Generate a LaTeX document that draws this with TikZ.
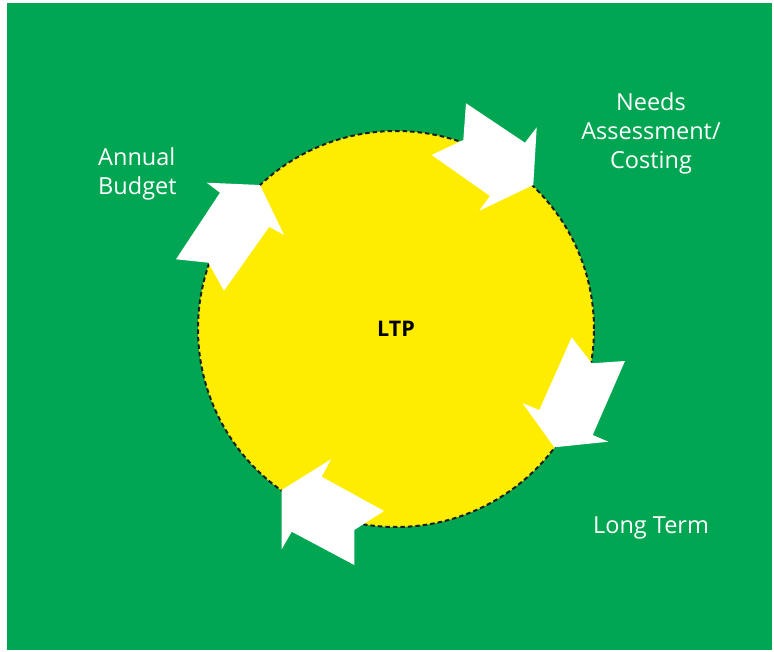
\documentclass[tikz,border=0pt]{standalone}
\usepackage{fontspec}
\setmainfont{Open Sans}
\tikzset{
  cycle label/.style={text=white, inner sep=0pt, font=\fontsize{23.5}{29}\selectfont},
  centre label/.style={text=black, inner sep=0pt, font=\fontsize{21.5}{26}\selectfont\bfseries},
  rim/.style={line width=2pt, dash pattern=on 4.5pt off 3pt},
}
\begin{document}
\begin{tikzpicture}[x=1pt,y=-1pt]
                        % \clip (0,0) rectangle (774,652);
                        \useasboundingbox (0,0) rectangle (774,652);
                        {

                        % Changing color 0 166 81
                        \definecolor{r0g166b81}{RGB}{0,166,81}%
                        \color{r0g166b81}%

                        % Filling background
                        \fill (7,3) rectangle (772,650);%

                        % Changing color 255 237 0
                        \definecolor{r255g237b0}{RGB}{255,237,0}%
                        \color{r255g237b0}%

                        % Filling circle LTP
                        \fill (396,329) circle [radius=198pt];%

                        % Changing color 30 30 30
                        \definecolor{r30g30b30}{RGB}{30,30,30}%
                        \color{r30g30b30}%

                        % Drawing circle LTP
                        \draw [rim] (396,329) circle [radius=198pt];%

                        % Changing color 255 255 255
                        \color{white}%

                        % Filling arrow top right
                        \fill (466.0,103.3) -- (525.0,142.7) -- (536.7,127.3) -- (533.3,185.0) -- (479.3,210.7) -- (490.0,196.0) -- (431.7,155.0) -- (463.3,140.0) -- cycle;%

                        % Filling arrow right
                        \fill (571.7,337.3) -- (591.7,363.3) -- (625.0,361.0) -- (592.7,435.0) -- (608.3,441.7) -- (554.3,447.3) -- (522.7,403.3) -- (539.3,410.0) -- cycle;%

                        % Filling arrow bottom
                        \fill (281.7,490.0) -- (331.0,459.3) -- (321.7,476.7) -- (384.0,511.0) -- (354.3,530.0) -- (354.3,565.0) -- (291.7,531.7) -- (281.7,549.3) -- cycle;%

                        % Filling arrow left
                        \fill (206.7,182.7) -- (260.0,185.0) -- (284.0,235.0) -- (269.3,226.7) -- (224.0,290.7) -- (208.3,262.7) -- (176.0,259.3) -- (220.0,192.7) -- cycle;%

                        % Labels
                        \node (ltp) [centre label] at (396,329) {LTP};
                        \node (needs) [cycle label, align=center] at (651,133) {Needs\\Assessment/\\Costing};
                        \node (budget) [cycle label, align=left, anchor=west] at (98,174) {Annual\\Budget};
                        \node (longterm) [cycle label] at (651,528) {Long Term};
                        \color{black}
                        }
\end{tikzpicture}
\end{document}
